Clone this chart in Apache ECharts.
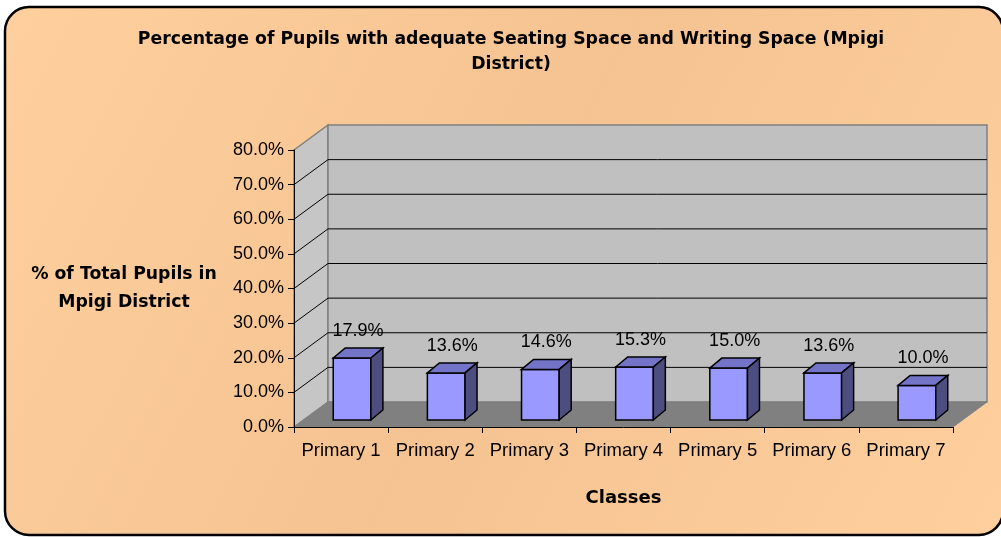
<!DOCTYPE html>
<html lang="en">

<head>
  <meta charset="UTF-8">
  <title>Mpigi seating space</title>
  <script src="https://cdn.jsdelivr.net/npm/echarts@6/dist/echarts.min.js"></script>
  <style>
    * {
      padding: 0;
      margin: 0;
    }

    body {
      background: #fff;
    }

    #box {
      width: 1001px;
      height: 537px;
    }
  </style>
</head>

<body>
  <div id="box"></div>
  <script>
    // data
    var classes = ['Primary 1', 'Primary 2', 'Primary 3', 'Primary 4', 'Primary 5', 'Primary 6', 'Primary 7']
    var seatingShare = [0.179, 0.136, 0.146, 0.153, 0.150, 0.136, 0.100]
    var yTicks = [0, 0.1, 0.2, 0.3, 0.4, 0.5, 0.6, 0.7, 0.8]

    var font = "'Liberation Sans', Arial, sans-serif"
    var boldFont = "'DejaVu Sans', sans-serif"
    var wallDx = 34, wallDy = -25   // depth of the back wall
    var barDx = 12, barDy = -10     // depth of a bar

    var mCharts = echarts.init(document.getElementById('box'))

    function pct(v) {
      return (v * 100).toFixed(1) + '%'
    }

    // back wall, side wall, floor and the grid lines on them
    function renderFrame(params, api) {
      var cs = params.coordSys
      var x = cs.x, y = cs.y, w = cs.width, h = cs.height
      var kids = []
      kids.push({
        type: 'polygon',
        shape: { points: [[x, y], [x + wallDx, y + wallDy], [x + wallDx, y + h + wallDy], [x, y + h]] },
        style: { fill: '#c6c6c6', stroke: '#808080', lineWidth: 1.5 }
      })
      kids.push({
        type: 'rect',
        shape: { x: x + wallDx, y: y + wallDy, width: w, height: h },
        style: { fill: '#c0c0c0', stroke: '#808080', lineWidth: 1.5 }
      })
      kids.push({
        type: 'polygon',
        shape: { points: [[x, y + h], [x + wallDx, y + h + wallDy], [x + w + wallDx, y + h + wallDy], [x + w, y + h]] },
        style: { fill: '#808080', stroke: '#808080', lineWidth: 1 }
      })
      for (var k = 1; k < yTicks.length - 1; k++) {
        var py = api.coord([0, yTicks[k]])[1]
        kids.push({
          type: 'line',
          shape: { x1: x, y1: py, x2: x + wallDx, y2: py + wallDy },
          style: { stroke: '#000', lineWidth: 1 }
        })
        kids.push({
          type: 'line',
          shape: { x1: x + wallDx, y1: py + wallDy, x2: x + w + wallDx, y2: py + wallDy },
          style: { stroke: '#000', lineWidth: 1 }
        })
      }
      return { type: 'group', children: kids }
    }

    function renderBar(params, api) {
      var i = api.value(0)
      var v = api.value(1)
      var base = api.coord([i, 0])
      var top = api.coord([i, v])
      var band = api.size([1, 0])[0]
      var half = band * 0.2
      var cx = base[0] + 11
      var fl = cx - half, fr = cx + half
      var fb = base[1] - 7, ft = top[1] - 7
      var line = { stroke: '#000', lineWidth: 1.5 }
      return {
        type: 'group',
        children: [
          {
            type: 'rect',
            shape: { x: fl, y: ft, width: fr - fl, height: fb - ft },
            style: Object.assign({ fill: '#9999ff' }, line)
          },
          {
            type: 'polygon',
            shape: { points: [[fl, ft], [fl + barDx, ft + barDy], [fr + barDx, ft + barDy], [fr, ft]] },
            style: Object.assign({ fill: '#7373c8' }, line)
          },
          {
            type: 'polygon',
            shape: { points: [[fr, ft], [fr + barDx, ft + barDy], [fr + barDx, fb + barDy], [fr, fb]] },
            style: Object.assign({ fill: '#4d4d80' }, line)
          },
          {
            type: 'text',
            style: {
              x: cx + barDx / 2, y: ft + barDy - 17,
              text: pct(v),
              font: '18px ' + font,
              fill: '#000',
              align: 'center',
              verticalAlign: 'middle'
            }
          }
        ]
      }
    }

    var barData = []
    for (let i = 0; i < seatingShare.length; i++) {
      barData.push([i, seatingShare[i]])
    }

    var option = {
      animation: false,
      graphic: [{
        type: 'rect',
        z: -10,
        shape: { x: 5, y: 7, width: 998, height: 528, r: 24 },
        style: {
          fill: new echarts.graphic.LinearGradient(0, 0, 1, 1, [
            { offset: 0, color: '#ffcf9e' },
            { offset: 0.5, color: '#f5c392' },
            { offset: 1, color: '#ffcf9e' }
          ]),
          stroke: '#000',
          lineWidth: 2.5
        }
      }],
      title: {
        text: 'Percentage of Pupils with adequate Seating Space and Writing Space (Mpigi\nDistrict)',
        left: 506,
        top: 22,
        textAlign: 'center',
        textStyle: {
          fontFamily: boldFont,
          fontSize: 17.3,
          fontWeight: 'bold',
          color: '#000',
          lineHeight: 25
        }
      },
      grid: {
        left: 294,
        right: 48,
        top: 150,
        bottom: 110
      },
      xAxis: {
        type: 'category',
        data: classes,
        z: 5,
        name: 'Classes',
        nameLocation: 'middle',
        nameGap: 62,
        nameTextStyle: { fontFamily: boldFont, fontSize: 18, fontWeight: 'bold', color: '#000' },
        axisLine: { lineStyle: { color: '#000', width: 1 } },
        axisTick: { show: true, length: 6, lineStyle: { color: '#000' } },
        axisLabel: { fontFamily: font, fontSize: 18.5, color: '#000', margin: 14, interval: 0 },
        splitLine: { show: false }
      },
      yAxis: {
        type: 'value',
        min: 0,
        max: 0.8,
        interval: 0.1,
        z: 5,
        name: '% of Total Pupils in\nMpigi District',
        nameLocation: 'middle',
        nameRotate: 0,
        nameGap: 170,
        nameTextStyle: {
          fontFamily: boldFont, fontSize: 17.3, fontWeight: 'bold', color: '#000',
          align: 'center', lineHeight: 28
        },
        axisLine: { show: true, lineStyle: { color: '#000', width: 1 } },
        axisTick: { show: true, length: 6, lineStyle: { color: '#000' } },
        axisLabel: { fontFamily: font, fontSize: 18, color: '#000', margin: 10, formatter: pct },
        splitLine: { show: false }
      },
      series: [
        {
          type: 'custom',
          silent: true,
          clip: false,
          renderItem: renderFrame,
          data: [[0, 0]]
        },
        {
          type: 'custom',
          clip: false,
          renderItem: renderBar,
          encode: { x: 0, y: 1 },
          data: barData
        }
      ]
    }
    mCharts.setOption(option)
  </script>
</body>

</html>
